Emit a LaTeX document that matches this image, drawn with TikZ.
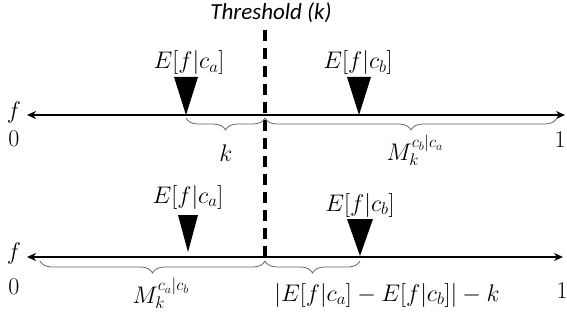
\RequirePackage{fix-cm}
\documentclass[tikz,border=0pt]{standalone}
\usepackage{fontspec}
\newfontfamily\carlito{Carlito}
\usetikzlibrary{decorations.pathreplacing,arrows.meta}
\begin{document}
\begin{tikzpicture}[x=1pt,y=-1pt,
  axis/.style={line width=2.6pt,{Stealth[length=9pt,width=8pt]}-{Stealth[length=9pt,width=8pt]}},
  tri/.style={fill=black},
  lbl/.style={font=\fontsize{24}{28}\selectfont,inner sep=0pt},
  brc/.style={decorate,decoration={brace,amplitude=12pt,mirror},draw=black!60,line width=0.8pt},
  thr/.style={line width=4pt,dash pattern=on 11pt off 7pt}]
\useasboundingbox (0,0) rectangle (567,326);
% threshold
\node[lbl,font=\carlito\itshape\fontsize{23}{26}\selectfont] (thr) at (271,13) {Threshold (k)};
\coordinate (t1) at (265,30);
\coordinate (t2) at (265,257);
\draw[thr] (t1) -- (t2);
% top axis
\coordinate (a0) at (27,115);
\coordinate (a1) at (565,115);
\draw[axis] (a0) -- (a1);
\node[lbl] (f1) at (14,113) {$f$};
\node[lbl] (z1) at (14,139) {0};
\node[lbl] (o1) at (560,140) {1};
\coordinate (pa1) at (186,115);
\coordinate (pb1) at (359,115);
\fill[tri] (pa1) -- ++(-12,-38) -- ++(24,0) -- cycle;
\fill[tri] (pb1) -- ++(-12,-38) -- ++(24,0) -- cycle;
\node[lbl] (ea1) at (189,63) {$E[f|c_a]$};
\node[lbl] (eb1) at (358,63) {$E[f|c_b]$};
\draw[brc] (186,118) -- (265,118);
\draw[brc] (265,118) -- (557,118);
\node[lbl] (k1) at (226,153) {$k$};
\node[lbl] (m1) at (415,150) {$M_k^{c_b|c_a}$};
% bottom axis
\coordinate (b0) at (27,257);
\coordinate (b1) at (563,257);
\draw[axis] (b0) -- (b1);
\node[lbl] (f2) at (14,253) {$f$};
\node[lbl] (z2) at (14,287) {0};
\node[lbl] (o2) at (562,291) {1};
\coordinate (pa2) at (188,252);
\coordinate (pb2) at (360,256);
\fill[tri] (pa2) -- ++(-10,-37) -- ++(20,0) -- cycle;
\fill[tri] (pb2) -- ++(-13,-37) -- ++(26,0) -- cycle;
\node[lbl] (ea2) at (188,197) {$E[f|c_a]$};
\node[lbl] (eb2) at (360,205) {$E[f|c_b]$};
\draw[brc] (40,261) -- (265,261);
\draw[brc] (265,261) -- (360,261);
\node[lbl] (m2) at (161,293) {$M_k^{c_a|c_b}$};
\node[lbl] (d2) at (387,295) {$|E[f|c_a]-E[f|c_b]|-k$};
\end{tikzpicture}
\end{document}
